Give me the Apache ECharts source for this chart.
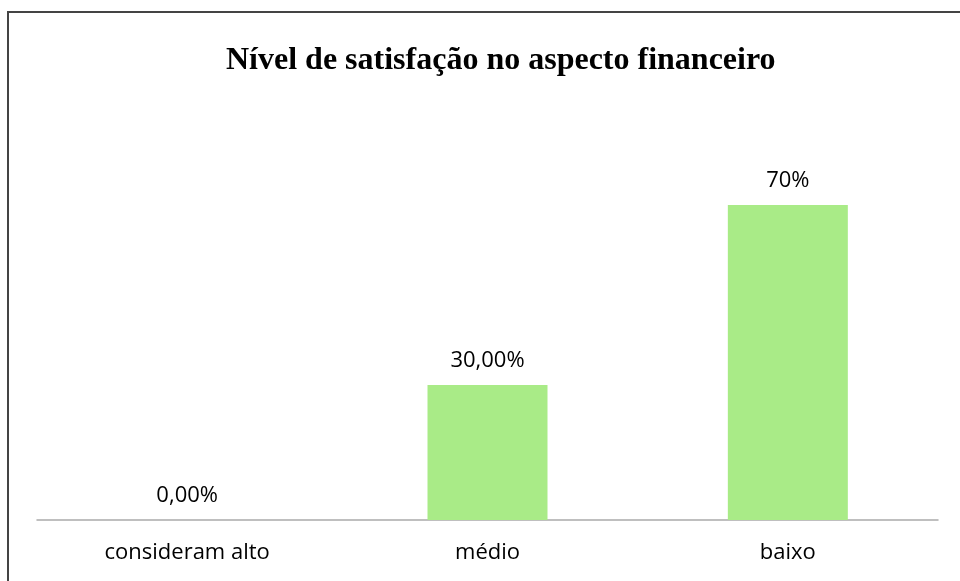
<!DOCTYPE html>
<html>
<head>
<meta charset="utf-8">
<script src="https://cdn.jsdelivr.net/npm/echarts@6/dist/echarts.min.js"></script>
<style>
  html, body { margin: 0; padding: 0; background: #fff; }
  #chart { width: 960px; height: 581px; }
</style>
</head>
<body>
<div id="chart"></div>
<script>
// dados do grafico
var categorias = ['consideram alto', 'médio', 'baixo'];
var valores = [0, 30, 70];
var rotulos = ['0,00%', '30,00%', '70%'];

var chart = echarts.init(document.getElementById('chart'));

var option = {
    backgroundColor: '#fff',
    title: {
        text: 'Nível de satisfação no aspecto financeiro',
        left: 221,
        top: 40,
        textStyle: {
            fontFamily: 'Liberation Serif',
            fontWeight: 'bold',
            fontSize: 32,
            color: '#000'
        }
    },
    graphic: [{
        type: 'rect',
        shape: { x: 8, y: 12, width: 980, height: 620 },
        style: { fill: 'none', stroke: '#444', lineWidth: 2 },
        silent: true
    }],
    grid: {
        left: 37,
        right: 22,
        top: 70,
        bottom: 61
    },
    xAxis: {
        type: 'category',
        data: categorias,
        axisTick: { show: false },
        axisLine: { lineStyle: { color: '#aaa', width: 1.5 } },
        axisLabel: {
            fontFamily: 'Open Sans',
            fontSize: 22,
            color: '#000',
            margin: 22
        }
    },
    yAxis: {
        type: 'value',
        min: 0,
        max: 100,
        show: false
    },
    series: [{
        type: 'bar',
        data: valores,
        barWidth: 120,
        itemStyle: { color: '#a9eb87' },
        label: {
            show: true,
            position: 'top',
            distance: 13,
            fontFamily: 'Open Sans',
            fontSize: 22,
            color: '#000',
            formatter: function (p) {
                return rotulos[p.dataIndex];
            }
        }
    }]
};
chart.setOption(option);
</script>
</body>
</html>
